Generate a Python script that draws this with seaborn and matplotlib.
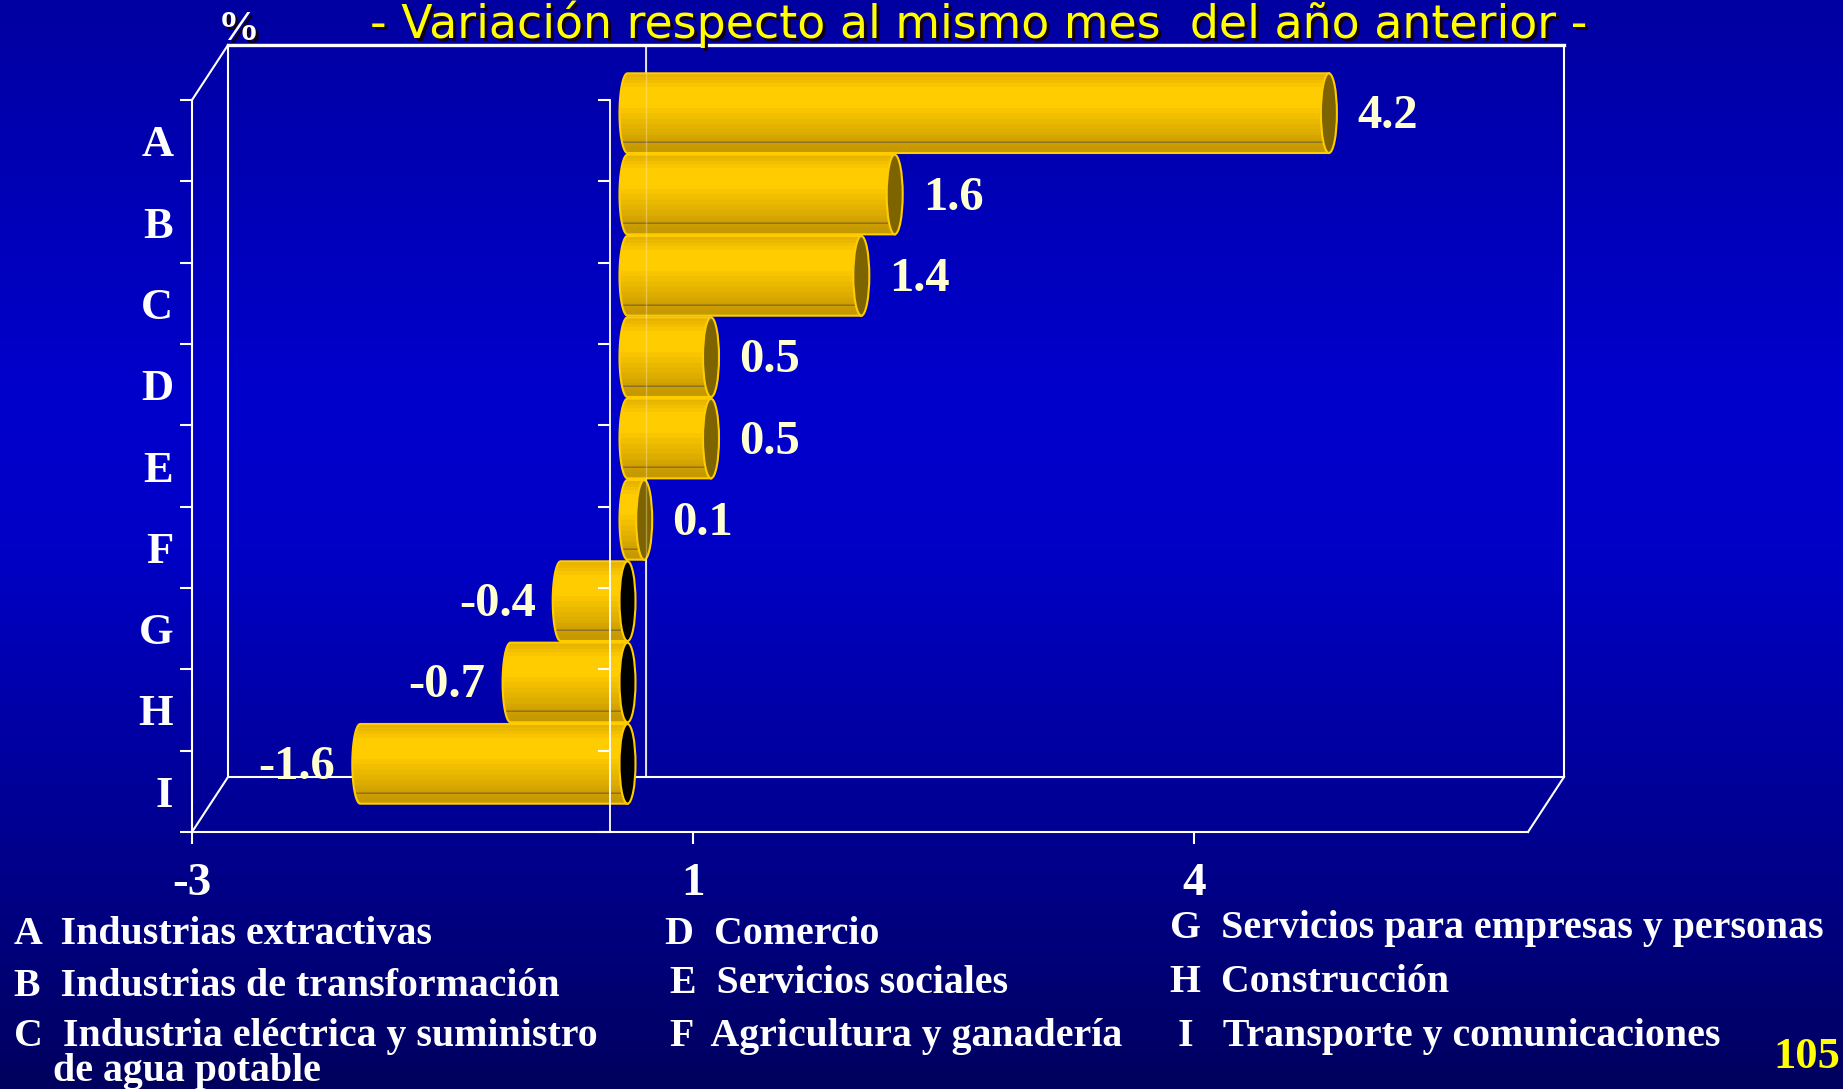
import numpy as np
import pandas as pd
import matplotlib
matplotlib.use("Agg")
import matplotlib.pyplot as plt
import matplotlib.lines as mlines
from matplotlib import transforms as mtransforms
from matplotlib.patches import Ellipse, PathPatch, Rectangle
from matplotlib.path import Path
from matplotlib.colors import to_rgb
import seaborn as sns

# ---------------------------------------------------------------- data
sectors = ["A", "B", "C", "D", "E", "F", "G", "H", "I"]
variation = [4.2, 1.6, 1.4, 0.5, 0.5, 0.1, -0.4, -0.7, -1.6]

x_ticks = [-2.5, 0.5, 3.5]
x_tick_labels = ["-3", "1", "4"]
x_range = (-2.5, 5.5)

legend_codes = ["A", "B", "C", "D", "E", "F", "G", "H", "I"]
legend_names = [
    "Industrias extractivas",
    "Industrias de transformación",
    "Industria eléctrica y suministro",
    "Comercio",
    "Servicios sociales",
    "Agricultura y ganadería",
    "Servicios para empresas y personas",
    "Construcción",
    "Transporte y comunicaciones",
]
legend_extra = "de agua potable"

subtitle = "- Variación respecto al mismo mes  del año anterior -"
unit_label = "%"
page_number = "105"

# ---------------------------------------------------------------- style
W, H, DPI = 1843, 1089, 100
SERIF = "Liberation Serif"
WHITE = "white"
GOLD = "#FFCC00"
LABEL_COLOR = "#FFFFD2"
TITLE_YELLOW = "#FFFF00"
SHADOW = "#120014"
LW = 1.5

DEPTH = (36, 55)               # back-wall offset in pixels
MID = (DEPTH[0] / 2, DEPTH[1] / 2)
CAP_PX = 8                     # half-width of the cylinder end ellipses

fig = plt.figure(figsize=(W / DPI, H / DPI), dpi=DPI)


def fpos(x, y):
    """pixel position (origin top-left) -> figure fraction"""
    return x / W, 1 - y / H


# vertical blue gradient backdrop
bg = fig.add_axes([0, 0, 1, 1], zorder=-10)
stops = [0.0, 0.36, 0.50, 0.75, 1.0]
blues = [0.63, 0.80, 0.78, 0.58, 0.37]
rows = np.linspace(0, 1, 400)
grad = np.zeros((400, 1, 3))
grad[:, 0, 2] = np.interp(rows, stops, blues)
bg.imshow(grad, extent=[0, 1, 0, 1], aspect="auto", origin="upper",
          interpolation="bilinear")
bg.set_axis_off()

# front plane of the 3-D box
ax = fig.add_axes([192 / W, 1 - 832 / H, 1336 / W, 732 / H])
ax.set_facecolor("none")

df = pd.DataFrame({"sector": sectors, "variation": variation})
sns.barplot(data=df, x="variation", y="sector", orient="h", color=GOLD,
            saturation=1, width=0.98, errorbar=None, ax=ax)
ax.set_xlim(*x_range)
ax.set_ylim(len(sectors) - 0.5, -0.5)
ax.set_autoscale_on(False)
ax.set_xlabel("")
ax.set_ylabel("")

ext = ax.get_window_extent()
px_per_unit = ext.width / (x_range[1] - x_range[0])
cap = CAP_PX / px_per_unit

to_back = mtransforms.Affine2D().translate(*DEPTH)
to_mid = mtransforms.Affine2D().translate(*MID)
mid = ax.transData + to_mid

# cylinder shading, top to bottom
shade_stops = [
    (0.00, "#E2AE00"), (0.05, "#EAB600"), (0.11, "#F4C100"), (0.20, "#FFCC00"),
    (0.40, "#FFCC00"), (0.50, "#F5C300"), (0.60, "#ECBA00"), (0.70, "#E1B000"),
    (0.80, "#D6A600"), (0.855, "#CFA000"), (0.86, "#8C7024"), (0.875, "#8C7024"),
    (0.88, "#CC9E00"), (1.00, "#C49600"),
]
n_rows = 240
pos = np.linspace(0, 1, n_rows)
shade = np.zeros((n_rows, 1, 3))
sp = [s[0] for s in shade_stops]
for k in range(3):
    shade[:, 0, k] = np.interp(pos, sp, [to_rgb(s[1])[k] for s in shade_stops])
shade = np.round(shade * 40) / 40   # banded look

for p in list(ax.patches):
    x0, w = p.get_x(), p.get_width()
    y0, h = p.get_y(), p.get_height()
    xl, xr = min(x0, x0 + w), max(x0, x0 + w)
    yc = y0 + h / 2
    value = x0 + w if abs(x0) < 1e-9 else x0
    p.set_transform(mid)
    p.set_facecolor("#F0C000")
    p.set_edgecolor("none")
    p.set_zorder(3)
    p.set_clip_on(False)

    th = np.linspace(np.pi / 2, 3 * np.pi / 2, 60)
    arc = np.column_stack([xl + cap * np.cos(th), yc - (h / 2) * np.sin(th)])
    verts = np.vstack([[xr, yc - h / 2], arc, [xr, yc + h / 2], [xr, yc - h / 2]])
    codes = [Path.MOVETO] + [Path.LINETO] * (len(verts) - 2) + [Path.CLOSEPOLY]
    body = PathPatch(Path(verts, codes), transform=mid, facecolor="none",
                     edgecolor=GOLD, lw=LW, zorder=3.3, clip_on=False)
    ax.add_patch(body)
    im = ax.imshow(shade, extent=(xl - cap, xr, yc + h / 2, yc - h / 2),
                   aspect="auto", origin="upper", interpolation="nearest",
                   zorder=3.2)
    im.set_transform(mid)
    im.set_clip_path(body)
    im.set_clip_box(fig.bbox)

    face = "#7E6400" if value >= 0 else "black"
    ax.add_patch(Ellipse((xr, yc), width=2 * cap, height=h, transform=mid,
                         facecolor=face, edgecolor=GOLD, lw=LW, zorder=3.4,
                         clip_on=False))

    # value label
    if value >= 0:
        off = mtransforms.Affine2D().translate(MID[0] + 28, MID[1] - 3)
        ha = "left"
    else:
        off = mtransforms.Affine2D().translate(MID[0] - CAP_PX - 17, MID[1] - 3)
        ha = "right"
    ax.text(value, yc, f"{value:.1f}", transform=ax.transData + off,
            ha=ha, va="center", color=LABEL_COLOR, fontsize=35,
            fontfamily=SERIF, fontweight="bold", zorder=7)

# ---------------------------------------------------------------- 3-D frame
frame = dict(color=WHITE, lw=LW, solid_capstyle="projecting", clip_on=False)
ax.add_patch(Rectangle((0, 0), 1, 1, transform=ax.transAxes + to_back,
                       fill=False, edgecolor=WHITE, lw=LW, zorder=1,
                       clip_on=False))
ax.plot([0, 1], [1, 1], transform=ax.transAxes + to_back, zorder=1,
        color=WHITE, lw=2.4, clip_on=False)
dxf, dyf = DEPTH[0] / ext.width, DEPTH[1] / ext.height
ax.plot([0, dxf], [1, 1 + dyf], transform=ax.transAxes, zorder=1, **frame)
ax.plot([0, dxf], [0, dyf], transform=ax.transAxes, zorder=1, **frame)
ax.plot([1, 1 + dxf], [0, dyf], transform=ax.transAxes, zorder=1, **frame)

xdata_yaxes = mtransforms.blended_transform_factory(ax.transData, ax.transAxes)
# zero line on the back wall (faintly visible through the bars)
ax.plot([0, 0], [0, 1], transform=xdata_yaxes + to_back, color=WHITE,
        lw=1.2, zorder=1, clip_on=False)
ax.plot([0, 0], [0, 1], transform=xdata_yaxes + to_back, color="#FFF4C0",
        lw=1.0, alpha=0.35, zorder=3.5, clip_on=False)
# zero line on the front plane with its category ticks
ax.plot([0, 0], [0, 1], transform=xdata_yaxes, color=WHITE, lw=1.3,
        zorder=6, clip_on=False)
boundaries = np.arange(len(sectors) + 1) - 0.5
ax.plot(np.zeros_like(boundaries), boundaries, ls="none",
        marker=mlines.TICKLEFT, ms=8.6, mew=LW, color=WHITE, zorder=6,
        clip_on=False)

# ---------------------------------------------------------------- axes
for side in ("top", "right"):
    ax.spines[side].set_visible(False)
for side in ("left", "bottom"):
    ax.spines[side].set_color(WHITE)
    ax.spines[side].set_linewidth(LW)
    ax.spines[side].set_zorder(2)

ax.set_xticks(x_ticks)
ax.set_xticklabels(x_tick_labels, fontsize=34, fontfamily=SERIF,
                   fontweight="bold", color=WHITE)
ax.tick_params(axis="x", length=8.6, width=LW, colors=WHITE, pad=14,
               direction="out")
ax.set_yticks(range(len(sectors)))
ax.set_yticklabels(sectors, fontsize=32, fontfamily=SERIF,
                   fontweight="bold", color=WHITE)
ax.set_yticks(boundaries, minor=True)
ax.tick_params(axis="y", which="major", length=0, pad=13.5)
ax.tick_params(axis="y", which="minor", length=8.6, width=LW, colors=WHITE,
               direction="out")

# ---------------------------------------------------------------- titles
def shadowed(x, y, s, color, **kw):
    fig.text(*fpos(x + 3, y + 3), s, color=SHADOW, **kw)
    fig.text(*fpos(x, y), s, color=color, **kw)


shadowed(979, 38, subtitle, TITLE_YELLOW, ha="center", va="baseline",
         fontsize=33, fontfamily="DejaVu Sans")
shadowed(218, 40, unit_label, WHITE, ha="left", va="baseline",
         fontsize=30, fontfamily=SERIF, fontweight="bold")

# ---------------------------------------------------------------- key
key_font = dict(fontsize=28.7, fontfamily=SERIF, fontweight="bold",
                color=WHITE, va="baseline", ha="left")
key_pos = [
    (14, 944), (14, 996), (14, 1046),
    (665, 944), (670, 993), (670, 1046),
    (1170, 938), (1170, 992), (1178, 1046),
]
for code, name, (kx, ky) in zip(legend_codes, legend_names, key_pos):
    gap = "   " if code == "I" else "  "
    fig.text(*fpos(kx, ky), f"{code}{gap}{name}", **key_font)
fig.text(*fpos(53, 1081), legend_extra, **key_font)

fig.text(*fpos(1840, 1068), page_number, ha="right", va="baseline",
         fontsize=32, fontfamily=SERIF, fontweight="bold", color=TITLE_YELLOW)

fig.savefig("out.png", dpi=DPI)
